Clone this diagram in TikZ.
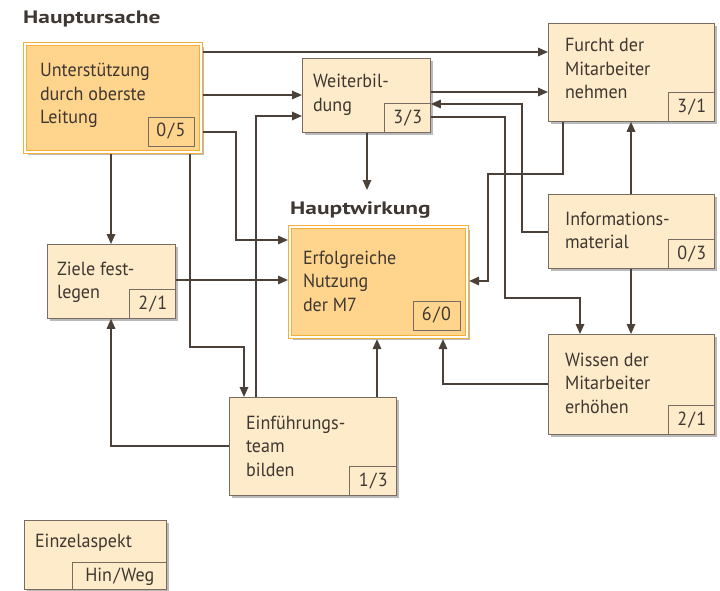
\documentclass[tikz,border=0pt]{standalone}
\usepackage{fontspec}
\setmainfont{PT Sans}
\newfontfamily\bodyfam[FakeStretch=0.95]{PT Sans}
\newfontfamily\headfam[FakeStretch=1.3]{PT Sans}
\usetikzlibrary{arrows.meta,shadows,calc}
\definecolor{cream}{HTML}{FDEBC9}
\definecolor{gold}{HTML}{FFD48C}
\definecolor{orangeline}{HTML}{F7AE34}
\definecolor{edgec}{HTML}{786C62}
\definecolor{conn}{HTML}{4B4139}
\definecolor{ink}{HTML}{3E3732}
\newcommand\bodyfont{\bodyfam\fontsize{19}{23.5}\selectfont}
\newcommand\headfont{\headfam\bfseries\fontsize{18}{20}\selectfont}
\begin{document}
\begin{tikzpicture}[x=1pt,y=-1pt,
  shad/.style={drop shadow={shadow xshift=3pt,shadow yshift=-3pt,fill=black!45,opacity=0.6}},
  box/.style={draw=edgec,line width=0.8pt,fill=cream,inner sep=0pt,outer sep=0.4pt,anchor=north west,shad},
  mainbox/.style={draw=orangeline,double=white,double distance=1.3pt,line width=1.4pt,fill=gold,inner sep=0pt,outer sep=2.05pt,anchor=north west,shad},
  sub/.style={draw=edgec,line width=0.8pt,inner sep=0pt,outer sep=0pt,minimum width=46pt,minimum height=29pt,anchor=south east,font=\bodyfont,text=ink},
  txt/.style={anchor=north west,inner sep=0pt,outer sep=0pt,align=left,font=\bodyfont,text=ink,yshift=16.45pt},
  head/.style={anchor=base west,inner sep=0pt,font=\headfont,text=ink},
  conn/.style={draw=conn,line width=1.6pt,-{Triangle[length=10pt,width=8.5pt]}}
]
\useasboundingbox (0,0) rectangle (720,591);

% boxes
\node[mainbox,minimum width=176pt,minimum height=108pt] (U) at (23,42) {};
\node[box,minimum width=128pt,minimum height=74pt] (W) at (302,58) {};
\node[box,minimum width=166pt,minimum height=98pt] (F) at (548,23) {};
\node[box,minimum width=166pt,minimum height=74pt] (I) at (548,194) {};
\node[mainbox,minimum width=177pt,minimum height=110pt] (E) at (288,225) {};
\node[box,minimum width=128pt,minimum height=74pt] (Z) at (47,244) {};
\node[box,minimum width=167pt,minimum height=98pt] (T) at (229,397) {};
\node[box,minimum width=166pt,minimum height=100pt] (K) at (548,334) {};
\node[box,minimum width=142pt,minimum height=69pt] (L) at (24,520) {};

% connectors
\coordinate (c11) at (367,190);
\draw[conn] (U.east |- 0,52) -- (F.west |- 0,52);
\draw[conn] (U.east |- 0,95) -- (W.west |- 0,95);
\draw[conn] (T.north -| 256,0) |- (W.west |- 0,116);
\draw[conn] (U.east |- 0,132) -| (236,240) -- (E.west |- 0,240);
\draw[conn] (U.south -| 111,0) -- (Z.north -| 111,0);
\draw[conn] (U.south -| 190,0) |- (244,347) -- (T.north -| 244,0);
\draw[conn] (Z.east |- 0,280) -- (E.west |- 0,280);
\draw[conn] (T.west |- 0,446) -| (Z.south -| 111,0);
\draw[conn] (T.north -| 377,0) -- (E.south -| 377,0);
\draw[conn] (K.west |- 0,384) -| (E.south -| 443,0);
\draw[conn] (W.south -| 367,0) -- (c11);
\draw[conn] (W.east |- 0,92) -- (F.west |- 0,92);
\draw[conn] (I.west |- 0,232) -| (522,104) -- (W.east |- 0,104);
\draw[conn] (W.east |- 0,117) -| (505,298) -| (K.north -| 580,0);
\draw[conn] (F.south -| 563,0) |- (488,174) |- (E.east |- 0,281);
\draw[conn] (I.south -| 631,0) -- (K.north -| 631,0);
\draw[conn] (I.north -| 631,0) -- (F.south -| 631,0);

% sub boxes
\node[sub] (Us) at (194,146) {0\kern1.5pt/\kern1.5pt5};
\node[sub] (Ws) at (W.south east) {3\kern1.5pt/\kern1.5pt3};
\node[sub] (Fs) at (F.south east) {3\kern1.5pt/\kern1.5pt1};
\node[sub] (Is) at (I.south east) {0\kern1.5pt/\kern1.5pt3};
\node[sub,minimum width=47pt] (Es) at (460,330) {6\kern1.5pt/\kern1.5pt0};
\node[sub] (Zs) at (Z.south east) {2\kern1.5pt/\kern1.5pt1};
\node[sub,minimum width=47pt] (Ts) at (T.south east) {1\kern1.5pt/\kern1.5pt3};
\node[sub] (Ks) at (K.south east) {2\kern1.5pt/\kern1.5pt1};
\node[sub,minimum width=94pt,minimum height=27pt] (Ls) at (L.south east) {Hin\kern1.5pt/\kern1.5pt Weg};

% texts
\node[txt] (Ut) at (40,77) {\strut Unterstützung\\durch oberste\\Leitung};
\node[txt] (Wt) at (313,88) {\strut Weiterbil-\\dung};
\node[txt] (Ft) at (565,52) {\strut Furcht der\\Mitarbeiter\\nehmen};
\node[txt] (It) at (565,225) {\strut Informations-\\material};
\node[txt] (Et) at (303,264) {\strut Erfolgreiche\\Nutzung\\der M7};
\node[txt] (Zt) at (57,275) {\strut Ziele fest-\\legen};
\node[txt] (Tt) at (246,429) {\strut Einführungs-\\team\\bilden};
\node[txt] (Kt) at (565,366) {\strut Wissen der\\Mitarbeiter\\erhöhen};
\node[txt] (Lt) at (35,547) {\strut Einzelaspekt};

% headings
\node[head] (hu) at (23,24) {Hauptursache};
\node[head] (hw) at (290,214) {Hauptwirkung};
\end{tikzpicture}
\end{document}
